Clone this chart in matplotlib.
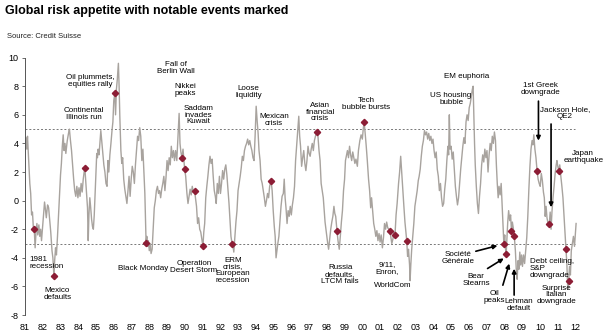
import matplotlib.pyplot as plt
from matplotlib import font_manager

installed = {f.name for f in font_manager.fontManager.ttflist}
narrow = 'Liberation Sans Narrow' in installed
plt.rcParams['font.family'] = ['Liberation Sans Narrow' if narrow else 'Liberation Sans', 'DejaVu Sans']
plt.rcParams['axes.unicode_minus'] = False

# risk appetite index (decimal year, value)
t = [1981.00, 1981.05, 1981.10, 1981.14, 1981.20, 1981.27, 1981.32, 1981.37, 1981.42, 1981.47,
     1981.52, 1981.57, 1981.62, 1981.67, 1981.72, 1981.78, 1981.83, 1981.88, 1981.93, 1981.98,
     1982.04, 1982.10, 1982.15, 1982.20, 1982.27, 1982.33, 1982.38, 1982.45, 1982.52, 1982.57,
     1982.63, 1982.67, 1982.72, 1982.77, 1982.83, 1982.88, 1982.94, 1983.00, 1983.05, 1983.10,
     1983.15, 1983.20, 1983.25, 1983.30, 1983.38, 1983.45, 1983.50, 1983.56, 1983.62, 1983.68,
     1983.74, 1983.80, 1983.86, 1983.92, 1983.98, 1984.04, 1984.10, 1984.16, 1984.22, 1984.28,
     1984.33, 1984.37, 1984.42, 1984.47, 1984.52, 1984.56, 1984.60, 1984.65, 1984.70, 1984.75,
     1984.80, 1984.85, 1984.90, 1984.95, 1985.00, 1985.04, 1985.08, 1985.12, 1985.17, 1985.22,
     1985.27, 1985.32, 1985.38, 1985.44, 1985.50, 1985.56, 1985.62, 1985.67, 1985.72, 1985.78,
     1985.84, 1985.90, 1985.95, 1986.00, 1986.06, 1986.10, 1986.15, 1986.20, 1986.26, 1986.30,
     1986.34, 1986.40, 1986.45, 1986.50, 1986.56, 1986.62, 1986.68, 1986.74, 1986.80, 1986.86,
     1986.92, 1986.98, 1987.04, 1987.10, 1987.16, 1987.22, 1987.28, 1987.34, 1987.40, 1987.46,
     1987.52, 1987.58, 1987.64, 1987.70, 1987.75, 1987.79, 1987.82, 1987.86, 1987.90, 1987.95,
     1988.00, 1988.05, 1988.10, 1988.16, 1988.22, 1988.28, 1988.34, 1988.40, 1988.46, 1988.52,
     1988.58, 1988.64, 1988.70, 1988.76, 1988.82, 1988.88, 1988.94, 1989.00, 1989.06, 1989.12,
     1989.18, 1989.24, 1989.30, 1989.36, 1989.42, 1989.48, 1989.55, 1989.62, 1989.68, 1989.73,
     1989.78, 1989.84, 1989.90, 1989.95, 1989.99, 1990.05, 1990.12, 1990.18, 1990.24, 1990.30,
     1990.36, 1990.42, 1990.48, 1990.55, 1990.60, 1990.66, 1990.72, 1990.78, 1990.84, 1990.90,
     1990.96, 1991.02, 1991.07, 1991.12, 1991.18, 1991.24, 1991.30, 1991.36, 1991.42, 1991.48,
     1991.54, 1991.60, 1991.66, 1991.72, 1991.77, 1991.83, 1991.89, 1991.95, 1992.01, 1992.07,
     1992.13, 1992.19, 1992.25, 1992.31, 1992.37, 1992.43, 1992.49, 1992.55, 1992.60, 1992.66,
     1992.71, 1992.76, 1992.82, 1992.88, 1992.94, 1993.00, 1993.06, 1993.12, 1993.18, 1993.24,
     1993.30, 1993.36, 1993.42, 1993.48, 1993.54, 1993.60, 1993.66, 1993.72, 1993.78, 1993.84,
     1993.90, 1993.96, 1994.02, 1994.08, 1994.13, 1994.18, 1994.24, 1994.30, 1994.36, 1994.42,
     1994.48, 1994.54, 1994.60, 1994.66, 1994.72, 1994.78, 1994.86, 1994.92, 1994.98, 1995.04,
     1995.09, 1995.14, 1995.19, 1995.24, 1995.30, 1995.36, 1995.42, 1995.48, 1995.55, 1995.60,
     1995.65, 1995.70, 1995.76, 1995.82, 1995.88, 1995.94, 1996.00, 1996.06, 1996.12, 1996.18,
     1996.24, 1996.30, 1996.36, 1996.42, 1996.47, 1996.52, 1996.58, 1996.64, 1996.70, 1996.76,
     1996.82, 1996.88, 1996.94, 1997.00, 1997.06, 1997.12, 1997.18, 1997.24, 1997.30, 1997.38,
     1997.44, 1997.50, 1997.56, 1997.62, 1997.68, 1997.74, 1997.80, 1997.85, 1997.90, 1997.95,
     1998.00, 1998.05, 1998.10, 1998.16, 1998.22, 1998.28, 1998.34, 1998.40, 1998.45, 1998.50,
     1998.57, 1998.63, 1998.70, 1998.76, 1998.82, 1998.88, 1998.94, 1999.00, 1999.05, 1999.11,
     1999.16, 1999.22, 1999.28, 1999.34, 1999.40, 1999.46, 1999.52, 1999.58, 1999.64, 1999.72,
     1999.78, 1999.86, 1999.93, 2000.00, 2000.05, 2000.10, 2000.16, 2000.22, 2000.28, 2000.35,
     2000.41, 2000.47, 2000.52, 2000.58, 2000.64, 2000.70, 2000.76, 2000.82, 2000.88, 2000.94,
     2001.00, 2001.06, 2001.13, 2001.19, 2001.25, 2001.31, 2001.37, 2001.43, 2001.50, 2001.54,
     2001.60, 2001.66, 2001.72, 2001.78, 2001.84, 2001.90, 2001.96, 2002.04, 2002.10, 2002.16,
     2002.22, 2002.28, 2002.34, 2002.40, 2002.46, 2002.50, 2002.55, 2002.60, 2002.66, 2002.69,
     2002.73, 2002.78, 2002.84, 2002.90, 2002.96, 2003.03, 2003.09, 2003.15, 2003.20, 2003.26,
     2003.32, 2003.38, 2003.44, 2003.50, 2003.56, 2003.62, 2003.68, 2003.74, 2003.80, 2003.86,
     2003.92, 2003.98, 2004.04, 2004.10, 2004.16, 2004.22, 2004.28, 2004.34, 2004.40, 2004.46,
     2004.52, 2004.58, 2004.64, 2004.70, 2004.76, 2004.82, 2004.86, 2004.90, 2004.94, 2005.00,
     2005.06, 2005.12, 2005.18, 2005.24, 2005.30, 2005.36, 2005.42, 2005.48, 2005.54, 2005.60,
     2005.66, 2005.72, 2005.78, 2005.84, 2005.90, 2005.96, 2006.02, 2006.08, 2006.14, 2006.20,
     2006.24, 2006.28, 2006.32, 2006.36, 2006.42, 2006.48, 2006.54, 2006.60, 2006.66, 2006.72,
     2006.78, 2006.84, 2006.90, 2006.96, 2007.02, 2007.08, 2007.14, 2007.20, 2007.26, 2007.32,
     2007.38, 2007.44, 2007.50, 2007.55, 2007.60, 2007.65, 2007.70, 2007.76, 2007.82, 2007.88,
     2007.93, 2007.97, 2008.02, 2008.06, 2008.10, 2008.14, 2008.19, 2008.24, 2008.30, 2008.35,
     2008.40, 2008.45, 2008.50, 2008.56, 2008.62, 2008.67, 2008.72, 2008.77, 2008.82, 2008.87,
     2008.92, 2008.97, 2009.02, 2009.08, 2009.14, 2009.20, 2009.26, 2009.32, 2009.38, 2009.44,
     2009.50, 2009.56, 2009.61, 2009.66, 2009.72, 2009.78, 2009.84, 2009.90, 2009.96, 2010.02,
     2010.08, 2010.14, 2010.20, 2010.25, 2010.30, 2010.35, 2010.40, 2010.46, 2010.53, 2010.58,
     2010.63, 2010.68, 2010.74, 2010.80, 2010.86, 2010.92, 2010.96, 2011.01, 2011.06, 2011.12,
     2011.18, 2011.24, 2011.30, 2011.36, 2011.42, 2011.47, 2011.52, 2011.57, 2011.62, 2011.67,
     2011.72, 2011.77, 2011.83, 2011.89, 2011.95, 2012.00, 2012.04]

risk = [3.5, 4.4, 3.6, 4.5, 3.0, 1.2, 0.5, -1.0, -0.8, -1.9,
        -2.0, -3.3, -2.2, -1.6, -2.4, -1.7, -2.5, -2.0, -2.8, -2.0,
        -1.0, -0.1, -0.6, -1.2, -0.3, -0.5, -1.2, -2.2, -3.5, -4.0,
        -5.3, -4.2, -3.3, -3.8, -2.5, -1.2, 0.5, 1.8, 2.6, 3.8,
        4.6, 3.5, 4.0, 3.3, 4.2, 4.7, 5.0, 4.2, 3.5, 2.5,
        1.5, 0.7, 0.3, 1.0, 0.2, 0.9, 0.3, 1.2, 0.6, 1.5,
        2.0, 2.3, 1.4, 0.5, -0.5, -2.8, -1.0, 0.2, -0.5, -1.3,
        -1.8, -2.0, -1.0, 0.5, 2.0, 3.3, 3.0, 3.6, 3.2, 4.0,
        4.9, 4.2, 3.3, 2.5, 2.0, 1.2, 1.0, 2.8, 2.0, 3.2,
        4.0, 4.9, 5.5, 7.0, 7.5, 6.0, 7.8, 8.5, 9.6, 8.0,
        5.9, 3.5, 2.6, 3.0, 1.5, 0.8, 0.3, -0.2, 0.7, 1.7,
        0.3, 1.5, 2.4, 2.0, 1.2, 2.5, 3.5, 4.5, 4.2, 5.1,
        4.5, 2.8, 3.6, 2.0, 0.5, -1.6, -2.95, -2.5, -3.2, -2.8,
        -3.5, -3.0, -3.7, -3.4, -2.0, -0.5, 0.0, 0.7, 1.0, 0.5,
        0.7, 0.2, 0.8, 1.2, 1.7, 0.7, 1.6, 2.8, 2.1, 3.0,
        2.5, 3.8, 3.0, 3.5, 2.8, 3.5, 2.8, 4.5, 6.1, 4.0,
        3.4, 3.0, 3.6, 2.8, 2.2, 1.7, 0.5, -0.2, 0.3, 0.8,
        0.4, 1.0, 0.6, 0.7, 0.2, -0.4, -1.6, -1.2, -2.0, -2.2,
        -2.7, -3.2, -2.2, -1.6, 0.2, 1.0, 1.7, 2.5, 3.1, 2.6,
        2.9, 1.7, 0.7, 0.3, -0.2, 1.2, 0.5, 1.7, 0.5, 1.2,
        2.1, 1.5, 2.2, 2.5, 1.8, 0.8, -0.2, -1.5, -2.5, -3.0,
        -3.1, -3.6, -2.5, -1.5, -0.7, 0.7, 1.2, 1.7, 2.3, 3.1,
        2.8, 3.5, 3.8, 4.0, 4.3, 3.9, 4.2, 3.8, 3.5, 3.0,
        2.8, 4.5, 6.6, 5.5, 4.7, 3.5, 2.8, 1.5, 1.2, 0.7,
        0.2, -0.4, 0.0, 0.5, 0.2, 1.0, 1.4, 0.7, -0.7, -1.8,
        -2.5, -4.0, -3.5, -3.0, -2.5, -1.5, -0.4, 0.3, 0.5, 1.5,
        0.2, -0.5, -1.6, -0.7, -1.1, -0.4, -1.0, -0.3, 0.2, 1.0,
        2.8, 3.8, 4.7, 5.9, 4.5, 3.8, 2.4, 3.0, 3.5, 2.6,
        2.1, 2.8, 3.8, 3.3, 3.1, 3.6, 4.0, 3.5, 4.2, 4.6,
        4.8, 4.5, 3.5, 2.8, 1.2, 0.7, 0.2, -0.7, -1.5, -2.0,
        -2.5, -3.0, -3.4, -2.7, -2.0, -1.5, -1.1, -0.4, -0.9, -1.1,
        -2.1, -2.8, -3.4, -2.5, -1.5, -0.7, 0.7, 1.5, 2.8, 3.2,
        3.5, 3.0, 3.8, 3.2, 2.8, 3.4, 3.0, 2.6, 2.9, 2.4,
        3.5, 4.2, 4.6, 4.3, 5.0, 5.5, 4.7, 3.8, 2.8, 1.5,
        0.7, -0.5, 0.2, -0.7, -1.6, -2.0, -2.5, -2.1, -2.8, -2.3,
        -2.9, -2.4, -3.3, -2.6, -1.6, -2.0, -1.5, -1.9, -2.0, -2.1,
        -2.5, -3.0, -2.7, -2.2, -2.4, -1.0, -0.2, 1.2, 2.0, 3.1,
        1.9, 0.8, -0.4, -1.5, -2.3, -2.8, -3.9, -3.4, -4.5, -5.6,
        -4.5, -3.4, -2.5, -1.6, -0.4, 0.2, 0.7, 1.4, 1.7, 2.2,
        3.1, 3.8, 4.2, 4.9, 4.6, 4.8, 4.3, 4.7, 4.2, 4.5,
        4.0, 4.3, 3.5, 3.0, 3.4, 2.2, 1.7, 0.7, 1.2, 0.2,
        -0.4, -0.2, 0.8, 1.5, 2.8, 3.8, 3.2, 6.0, 3.6, 3.8,
        2.9, 3.4, 2.2, 1.0, 0.3, -0.3, 0.2, 1.2, 2.2, 3.0,
        3.8, 4.4, 4.0, 5.5, 6.0, 5.6, 6.5, 6.8, 7.3, 7.8,
        8.0, 6.0, 4.0, 2.5, 1.0, -0.2, -0.9, 0.3, 1.2, 2.5,
        3.2, 2.7, 3.6, 3.0, 3.5, 2.0, 3.2, 4.0, 3.5, 4.5,
        4.0, 4.8, 4.2, 2.5, 1.2, 0.2, 1.0, 0.4, 1.2, -0.5,
        -1.8, -3.0, -2.4, -3.3, -3.75, -2.8, -1.5, -0.7, -1.4, -1.0,
        -2.1, -1.5, -1.9, -2.5, -3.5, -4.8, -5.5, -4.2, -4.8, -3.6,
        -4.5, -3.8, -4.6, -3.8, -4.4, -3.5, -2.6, -1.1, 0.8, 2.4,
        3.6, 4.2, 3.9, 4.6, 3.6, 3.0, 2.1, 1.5, 1.2, 1.0,
        1.9, 1.4, 0.6, 0.2, -1.1, -0.4, -1.2, -1.6, -1.65, -0.8,
        -2.0, -0.8, 0.2, 1.0, 1.9, 2.5, 2.8, 2.4, 2.1, 2.5,
        1.7, 1.0, 0.2, -1.1, -2.3, -3.4, -4.4, -6.2, -5.6, -4.6,
        -5.2, -3.5, -3.0, -2.5, -3.2, -2.3, -1.6]

# marked events
ev_t = [1981.52, 1982.63, 1984.37, 1986.06, 1987.82, 1989.84, 1989.99, 1990.55, 1991.02,
        1992.66, 1994.86, 1997.44, 1998.57, 2000.10, 2001.54, 2001.84, 2002.50, 2007.97,
        2008.10, 2008.40, 2008.56, 2009.84, 2010.53, 2011.06, 2011.47, 2011.62]
ev_v = [-2.0, -5.3, 2.3, 7.5, -2.95, 3.0, 2.2, 0.7, -3.2,
        -3.0, 1.4, 4.8, -2.1, 5.5, -2.1, -2.4, -2.8, -3.0,
        -3.75, -2.1, -2.5, 2.1, -1.65, 2.1, -3.4, -5.6]

years = list(range(1981, 2013))
year_labels = [str(y)[2:] for y in years]

fig = plt.figure(figsize=(6.1, 3.33), dpi=100)
ax = fig.add_axes([0.041, 0.054, 0.943, 0.773])

ax.hlines([5, -3], 1981, 2012, colors='#777777', linestyles=(0, (2, 2)), lw=0.7)
ax.plot(t, risk, color='#a8a39e', lw=1.0)
ax.plot(ev_t, ev_v, 'D', color='#8c1d35', ms=3.2, ls='none')

ax.set_xlim(1981, 2013.4)
ax.set_ylim(-8, 10)
ax.set_yticks(range(-8, 11, 2))
ax.set_xticks(years)
ax.set_xticklabels(year_labels)
ax.tick_params(axis='x', length=0, pad=6, labelsize=6.5)
ax.tick_params(axis='y', length=2.5, width=0.6, pad=2, labelsize=6.5, color='#555555')
for s in ['top', 'right', 'bottom']:
    ax.spines[s].set_visible(False)
ax.spines['left'].set_color('#555555')
ax.spines['left'].set_linewidth(0.7)

fs = 6 if narrow else 5.8
notes = [
    ("1981\nrecession", 1981.23, -4.36, 'left'),
    ("Mexico\ndefaults", 1982.82, -6.52, 'center'),
    ("Oil plummets,\nequities rally", 1984.66, 8.34, 'center'),
    ("Continental\nIllinois run", 1984.30, 6.04, 'center'),
    ("Fall of\nBerlin Wall", 1989.51, 9.25, 'center'),
    ("Nikkei\npeaks", 1990.04, 7.71, 'center'),
    ("Saddam\ninvades\nKuwait", 1990.75, 5.97, 'center'),
    ("Black Monday", 1987.65, -4.78, 'center'),
    ("Operation\nDesert Storm", 1990.52, -4.64, 'center'),
    ("ERM\ncrisis,\nEuropean\nrecession", 1992.72, -4.88, 'center'),
    ("Loose\nliquidity", 1993.59, 7.57, 'center'),
    ("Mexican\ncrisis", 1995.03, 5.62, 'center'),
    ("Asian\nfinancial\ncrisis", 1997.62, 6.18, 'center'),
    ("Russia\ndefaults,\nLTCM fails", 1998.75, -5.16, 'center'),
    ("Tech\nbubble bursts", 2000.21, 6.73, 'center'),
    ("9/11,\nEnron,", 2001.39, -4.71, 'center'),
    ("WorldCom", 2001.70, -5.97, 'center'),
    ("US housing\nbubble", 2005.0, 7.08, 'center'),
    ("EM euphoria", 2005.90, 8.69, 'center'),
    ("Japan\nearthquake", 2012.44, 3.04, 'center'),
    ("Debt ceiling,\nS&P\ndowngrade", 2009.45, -4.75, 'left'),
    ("Surprise\nItalian\ndowngrade", 2010.92, -6.6, 'center'),
]
for txt, x, y, ha in notes:
    ax.text(x, y, txt, fontsize=fs, ha=ha, va='center', linespacing=0.95, clip_on=False)

arrows = [
    ("1st Greek\ndowngrade", (2009.92, 4.0), (2010.01, 7.78), (2009.92, 7.15)),
    ("Jackson Hole,\nQE2", (2010.63, -0.66), (2011.42, 6.1), (2010.63, 5.55)),
    ("Société\nGénérale", (2007.76, -3.1), (2005.39, -4.01), (2006.24, -3.59)),
    ("Bear\nStearns", (2008.1, -3.94), (2006.41, -5.55), (2006.92, -4.85)),
    ("Oil\npeaks", (2008.32, -4.22), (2007.42, -6.73), (2007.87, -6.1)),
    ("Lehman\ndefault", (2008.55, -4.57), (2008.83, -7.29), (2008.55, -6.8)),
]
for txt, tip, pos, tail in arrows:
    ax.text(pos[0], pos[1], txt, fontsize=fs, ha='center', va='center', linespacing=0.95)
    ax.annotate('', xy=tip, xytext=tail,
                arrowprops=dict(arrowstyle='-|>', color='black', lw=1.2, mutation_scale=6))

fig.text(0.008, 0.985, "Global risk appetite with notable events marked",
         fontsize=10.5 if narrow else 9, fontweight='bold', va='top', ha='left')
fig.text(0.011, 0.89, "Source: Credit Suisse", fontsize=5.5, va='center', ha='left', color='#222222')

fig.savefig('out.png', dpi=100)
